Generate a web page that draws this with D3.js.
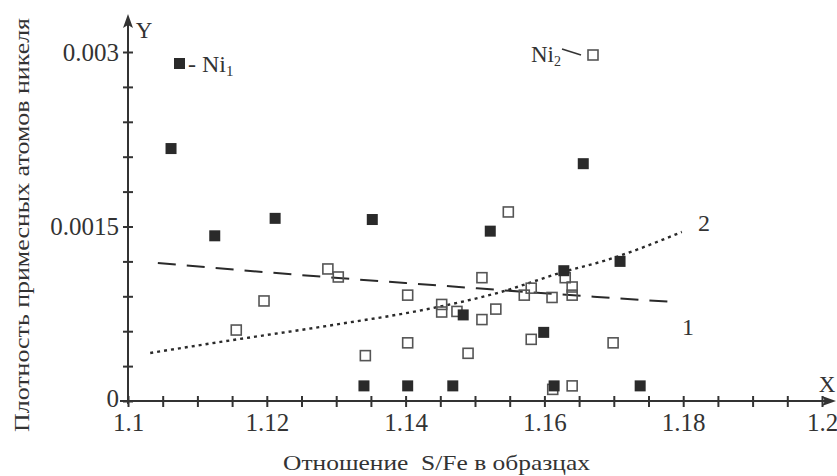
<!DOCTYPE html>
<html>
<head>
<meta charset="utf-8">
<script src="https://cdn.jsdelivr.net/npm/d3@7"></script>
<style>
  body { margin: 0; background: #fff; }
  svg { display: block; }
  .axis line { stroke: #333; stroke-width: 2; }
</style>
</head>
<body>
<svg id="chart" width="837" height="476" font-family="'Liberation Serif', 'DejaVu Serif', serif"></svg>
<script>
// Ni1 — filled squares
const ni1X = [1.1062, 1.1125, 1.1212, 1.1352, 1.1656, 1.1522, 1.1628, 1.1709, 1.1483, 1.1599, 1.1340, 1.1403, 1.1468, 1.1614, 1.1738];
const ni1Y = [0.00217, 0.00142, 0.00157, 0.00156, 0.00204, 0.00146, 0.00112, 0.00120, 0.00074, 0.00059, 0.00013, 0.00013, 0.00013, 0.00013, 0.00013];

// Ni2 — open squares
const ni2X = [1.1156, 1.1196, 1.1288, 1.1303, 1.1403, 1.1403, 1.1342, 1.1452, 1.1452, 1.1474, 1.1490, 1.1510, 1.1510,
              1.1530, 1.1548, 1.1571, 1.1581, 1.1581, 1.1611, 1.1630, 1.1640, 1.1640, 1.1612, 1.1640, 1.1699];
const ni2Y = [0.00061, 0.00086, 0.001135, 0.001066, 0.00091, 0.00050, 0.00039, 0.00083, 0.000765, 0.00077, 0.00041, 0.00106, 0.00070,
              0.00079, 0.001625, 0.00091, 0.00097, 0.00053, 0.00089, 0.00106, 0.00098, 0.00091, 0.00010, 0.00013, 0.00050];

// trend 1 (dashed) and trend 2 (dotted)
const curve1X = [1.1043, 1.1267, 1.1439, 1.1676, 1.1786];
const curve1Y = [0.001186, 0.001074, 0.000997, 0.000894, 0.000851];
const curve2X = [1.1032, 1.1151, 1.1295, 1.1439, 1.1532, 1.1627, 1.1690, 1.1798];
const curve2Y = [0.000413, 0.000524, 0.000653, 0.000799, 0.000928, 0.001109, 0.001212, 0.001453];

const xTicks = d3.range(0, 21).map(i => 1.1 + i * 0.005);
const yTicks = d3.range(0, 11).map(i => i * 0.0003);
const yTickLabels = { 0: '0', 5: '0.0015', 10: '0.003' };

const svg = d3.select('#chart');
const x = d3.scaleLinear().domain([1.1, 1.2]).range([128, 822]);
const y = d3.scaleLinear().domain([0, 0.003]).range([401, 52]);
const INK = '#2a2a2a';
const TXT = '#333';
const SERIF = "'Liberation Serif', 'DejaVu Serif', serif";

function styleAxis(g) {
    g.select('.domain').remove();
    g.attr('font-family', SERIF).attr('font-size', 25);
    g.selectAll('text').attr('fill', TXT);
}

// axes: crossing ticks = top + bottom halves
svg.append('g').attr('class', 'axis').attr('transform', 'translate(0,401)')
    .call(d3.axisTop(x).tickValues(xTicks).tickSize(5).tickFormat(''))
    .call(styleAxis);
svg.append('g').attr('class', 'axis').attr('transform', 'translate(0,401)')
    .call(d3.axisBottom(x).tickValues(xTicks).tickSize(6).tickPadding(6)
        .tickFormat((d, i) => i % 4 === 0 ? String(+d.toFixed(2)) : ''))
    .call(styleAxis);

svg.append('g').attr('class', 'axis').attr('transform', 'translate(128,0)')
    .call(d3.axisRight(y).tickValues(yTicks).tickSize(5).tickFormat(''))
    .call(styleAxis);
svg.append('g').attr('class', 'axis').attr('transform', 'translate(128,0)')
    .call(d3.axisLeft(y).tickValues(yTicks).tickSize(5).tickPadding(4)
        .tickFormat((d, i) => yTickLabels[i] || ''))
    .call(styleAxis);
// lift the "0" a little so it clears "1.1"
svg.selectAll('.axis .tick text').filter(function () { return this.textContent === '0'; })
    .attr('dy', '0.2em');

// axis lines with arrows
svg.append('line').attr('x1', 120).attr('x2', 826).attr('y1', 401).attr('y2', 401)
    .attr('stroke', '#333').attr('stroke-width', 2);
svg.append('line').attr('x1', 128).attr('x2', 128).attr('y1', 404).attr('y2', 24)
    .attr('stroke', '#333').attr('stroke-width', 2);
svg.append('path').attr('d', 'M836,401 L822,396 L825,401 L822,406 Z').attr('fill', '#333');
svg.append('path').attr('d', 'M128,14 L123,28 L128,25 L133,28 Z').attr('fill', '#333');

svg.append('text').attr('x', 144).attr('y', 38).attr('text-anchor', 'middle')
    .attr('font-size', 23).attr('fill', TXT).text('Y');
svg.append('text').attr('x', 827).attr('y', 392).attr('text-anchor', 'middle')
    .attr('font-size', 23).attr('fill', TXT).text('X');

// axis titles
svg.append('text').attr('x', 283).attr('y', 470)
    .attr('font-size', 22).attr('fill', TXT)
    .attr('textLength', 307).attr('lengthAdjust', 'spacingAndGlyphs')
    .attr('xml:space', 'preserve')
    .text('Отношение  S/Fe в образцах');
svg.append('text').attr('transform', 'translate(29,432) rotate(-90)')
    .attr('font-size', 22).attr('fill', TXT)
    .attr('textLength', 414).attr('lengthAdjust', 'spacingAndGlyphs')
    .text('Плотность примесных атомов никеля');

// trend lines
const line = d3.line().x(d => x(d[0])).y(d => y(d[1])).curve(d3.curveMonotoneX);
svg.append('path').datum(d3.zip(curve1X, curve1Y)).attr('d', line)
    .attr('fill', 'none').attr('stroke', INK).attr('stroke-width', 2).attr('stroke-dasharray', '18,11');
svg.append('path').datum(d3.zip(curve2X, curve2Y)).attr('d', line)
    .attr('fill', 'none').attr('stroke', INK).attr('stroke-width', 2.4).attr('stroke-dasharray', '3,4');

svg.append('text').attr('x', 688).attr('y', 335).attr('text-anchor', 'middle')
    .attr('font-size', 24).attr('fill', TXT).text('1');
svg.append('text').attr('x', 704).attr('y', 231).attr('text-anchor', 'middle')
    .attr('font-size', 24).attr('fill', TXT).text('2');

// points
const OS = 10, FS = 11;
svg.append('g').selectAll('rect').data(d3.zip(ni2X, ni2Y)).join('rect')
    .attr('x', d => x(d[0]) - OS / 2).attr('y', d => y(d[1]) - OS / 2)
    .attr('width', OS).attr('height', OS)
    .attr('fill', 'none').attr('stroke', '#555').attr('stroke-width', 1.6);
svg.append('g').selectAll('rect').data(d3.zip(ni1X, ni1Y)).join('rect')
    .attr('x', d => x(d[0]) - FS / 2).attr('y', d => y(d[1]) - FS / 2)
    .attr('width', FS).attr('height', FS)
    .attr('fill', INK);

// legend Ni1
svg.append('rect').attr('x', 174).attr('y', 58).attr('width', FS).attr('height', FS).attr('fill', INK);
const l1 = svg.append('text').attr('x', 188).attr('y', 72).attr('font-size', 24).attr('fill', TXT);
l1.append('tspan').text('- Ni');
l1.append('tspan').attr('font-size', 15).attr('dy', 4).text('1');

// legend Ni2
const l2 = svg.append('text').attr('x', 531).attr('y', 62).attr('font-size', 23).attr('fill', TXT);
l2.append('tspan').text('Ni');
l2.append('tspan').attr('font-size', 14).attr('dy', 4).text('2');
svg.append('line').attr('x1', 562).attr('y1', 49).attr('x2', 581).attr('y2', 55)
    .attr('stroke', '#333').attr('stroke-width', 1.5);
svg.append('rect').attr('x', 588).attr('y', 50).attr('width', OS).attr('height', OS)
    .attr('fill', 'none').attr('stroke', '#555').attr('stroke-width', 1.6);
</script>
</body>
</html>
